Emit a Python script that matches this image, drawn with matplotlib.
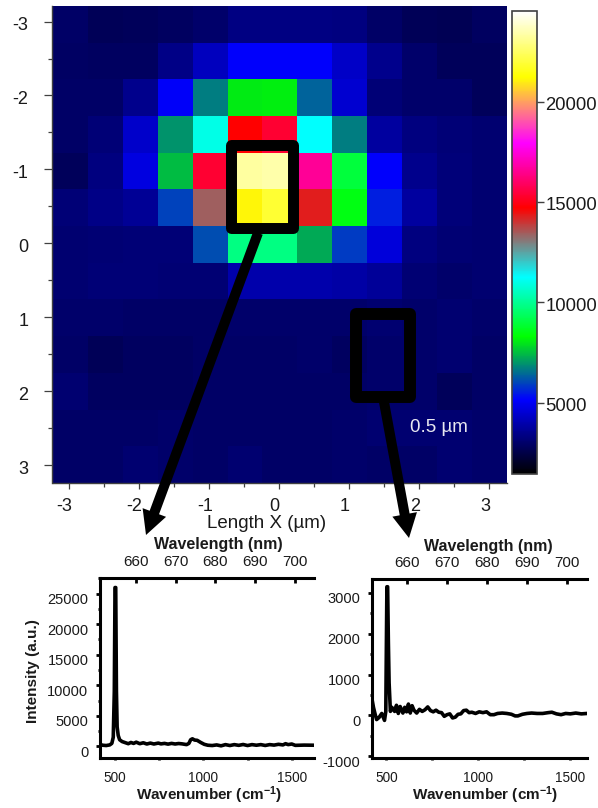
import numpy as np
import matplotlib
matplotlib.use("Agg")
import matplotlib.pyplot as plt
from matplotlib.colors import LinearSegmentedColormap
from matplotlib.patches import Rectangle, FancyArrow
from matplotlib.ticker import MultipleLocator, FixedLocator
from matplotlib.transforms import ScaledTranslation

plt.rcParams["font.family"] = ["Liberation Sans", "DejaVu Sans"]
plt.rcParams["mathtext.fontset"] = "custom"
plt.rcParams["mathtext.bf"] = "Liberation Sans:bold"
plt.rcParams["mathtext.rm"] = "Liberation Sans"
plt.rcParams["mathtext.default"] = "bf"
plt.rcParams["axes.unicode_minus"] = False

W, H = 598, 808
GRAY = "#404040"
TEXT = "#1a1a1a"

# intensity map, one row per line of the picture, top to bottom
map_row_0 = [2950, 2750, 2800, 2880, 3000, 3350, 3350, 3350, 3300, 2950, 2750, 2700, 2880]
map_row_1 = [2900, 2880, 2880, 3400, 4202, 5142, 5142, 5142, 4347, 3500, 3000, 2800, 2800]
map_row_2 = [2950, 2950, 3500, 5070, 6717, 8050, 8100, 6373, 4492, 3200, 3000, 3000, 2800]
map_row_3 = [2950, 3200, 4419, 6988, 10961, 14712, 15345, 11253, 6717, 3768, 3300, 3200, 3100]
map_row_4 = [2800, 3300, 4709, 7480, 15345, 23292, 23420, 16610, 8980, 5142, 3500, 3250, 3100]
map_row_5 = [3200, 3400, 3650, 6000, 13420, 21100, 21880, 14300, 8513, 5511, 3768, 3250, 3100]
map_row_6 = [3100, 3150, 3200, 3200, 6126, 9796, 9796, 7234, 5880, 4636, 3300, 3150, 3100]
map_row_7 = [3100, 3200, 3200, 3150, 3150, 3950, 3950, 3950, 3850, 3700, 3150, 3000, 3100]
map_row_8 = [3000, 3000, 2950, 2950, 2950, 3000, 3000, 3000, 3000, 3100, 3000, 3100, 3000]
map_row_9 = [2950, 2750, 2880, 2880, 2950, 2950, 2950, 3000, 2880, 3000, 3000, 3100, 2950]
map_row_10 = [3100, 2880, 2880, 2880, 2950, 2950, 2950, 2950, 2950, 3000, 3000, 2800, 2950]
map_row_11 = [2950, 2950, 2950, 3000, 2950, 2950, 2950, 2950, 3000, 3100, 3100, 3100, 3000]
map_row_12 = [2950, 2950, 3100, 3000, 2950, 3100, 2950, 2950, 3000, 2950, 2950, 3100, 3000]
map_rows = [map_row_0, map_row_1, map_row_2, map_row_3, map_row_4, map_row_5, map_row_6,
            map_row_7, map_row_8, map_row_9, map_row_10, map_row_11, map_row_12]

cbar_ticks = [5000, 10000, 15000, 20000]
cbar_colors = [(0.0, "#000000"), (0.16, "#0000ff"), (0.296, "#00ff00"), (0.425, "#00ffff"),
               (0.575, "#ff0000"), (0.715, "#ff00ff"), (0.858, "#ffff00"), (1.0, "#ffffff")]

# spectrum under the bright spot
left_wn = [415, 430, 450, 470, 482, 490, 496, 500, 504, 508, 512, 518, 526, 540, 560, 575, 590, 605, 620, 640, 660, 680,
           700, 720, 745, 760, 780, 800, 820, 840, 860, 880, 905, 918, 928, 938, 950, 965, 985, 1005, 1025, 1050, 1075, 1100,
           1125, 1150, 1175, 1200, 1225, 1250, 1275, 1300, 1325, 1350, 1375, 1400, 1425, 1450, 1465, 1480, 1500, 1520, 1570, 1626]
left_int = [350, 200, 150, 250, 500, 1500, 9000, 26000, 26000, 9000, 3200, 1800, 1100, 800, 600, 450, 650, 500, 700, 450, 600, 400,
            550, 400, 550, 420, 500, 380, 500, 400, 480, 420, 300, 500, 1100, 1250, 1050, 1000, 650, 350, 200, 150, 250, 100,
            300, 150, 300, 180, 320, 150, 300, 200, 300, 160, 300, 220, 350, 250, 450, 300, 400, 180, 220, 200]

# spectrum away from the spot
right_wn = [422, 430, 438, 447, 460, 475, 490, 497, 503, 507, 511, 515, 522, 530, 545, 555, 565, 575, 590, 600,
            610, 620, 630, 640, 650, 665, 680, 695, 710, 725, 740, 755, 770, 785, 800, 815, 830, 845, 860, 875,
            890, 905, 920, 935, 950, 965, 985, 1005, 1025, 1045, 1065, 1085, 1105, 1130, 1155, 1180, 1200, 1215,
            1240, 1265, 1290, 1320, 1350, 1380, 1400, 1425, 1450, 1475, 1500, 1530, 1560, 1591]
right_int = [400, 200, 50, -100, -50, 50, -120, 100, 3150, 3150, 1800, 800, 100, 200, 100, 250, 50, 220, 60, 200,
             90, 280, 60, 240, 130, 60, 150, 100, 140, 210, 120, 90, 130, 80, 70, -20, 20, 40, -60, -40,
             30, 40, 120, 130, 70, 80, 50, 90, 70, 90, 20, 20, 50, 60, 50, 30, -10, -10,
             30, 50, 60, 50, 50, 70, 80, 40, 20, 50, 40, 60, 40, 50]

wavelength_ticks = [660, 670, 680, 690, 700]


def px_axes(fig, x0, y0, x1, y1):
    return fig.add_axes([x0 / W, 1 - y1 / H, (x1 - x0) / W, (y1 - y0) / H])


def shift_labels(fig, labels, dx, dy):
    # the tick labels sit a few pixels off their ticks in the original
    off = ScaledTranslation(dx / 100, dy / 100, fig.dpi_scale_trans)
    for lab in labels:
        lab.set_transform(lab.get_transform() + off)


def place_label(axis, at):
    axis.set_label_coords(at[0], at[1], transform=plt.gcf().axes[0].transData)
    axis.label.set_verticalalignment("center")


def plot_spectrum(fig, box, wn, inten, xlim, ylim, ymajor, wl_lim, xlabel_at, wl_label_at):
    ax = px_axes(fig, *box)
    ax.plot(wn, inten, color="k", lw=2.6, solid_joinstyle="round")
    ax.set_xlim(*xlim)
    ax.set_ylim(*ylim)
    for side in ["top", "right"]:
        ax.spines[side].set_visible(False)
    for side in ["left", "bottom"]:
        ax.spines[side].set_linewidth(2.2)
    ax.xaxis.set_major_locator(FixedLocator([500, 1000, 1500]))
    ax.xaxis.set_minor_locator(FixedLocator([750, 1250]))
    ax.yaxis.set_major_locator(MultipleLocator(ymajor))
    ax.yaxis.set_minor_locator(MultipleLocator(ymajor / 2))
    ax.tick_params(axis="y", which="major", length=2.8, width=2, pad=5.5, labelsize=10.5, labelcolor=TEXT)
    ax.tick_params(axis="y", which="minor", length=1.5, width=2)
    ax.tick_params(axis="x", which="major", length=1.5, width=2, pad=7.5, labelsize=9.8, labelcolor=TEXT)
    ax.tick_params(axis="x", which="minor", length=1.5, width=2)
    shift_labels(fig, ax.get_yticklabels(), 0, -5)
    ax.set_xlabel("Wavenumber (cm$^{-1}$)", fontsize=11, fontweight="bold", color=TEXT)
    place_label(ax.xaxis, xlabel_at)

    top = ax.twiny()
    top.set_xlim(*wl_lim)
    top.spines["top"].set_linewidth(2.2)
    for side in ["left", "right", "bottom"]:
        top.spines[side].set_visible(False)
    top.xaxis.set_major_locator(FixedLocator(wavelength_ticks))
    top.tick_params(axis="x", which="major", direction="in", length=3.6, width=2, pad=6.5,
                    labelsize=11, labelcolor=TEXT)
    top.set_xlabel("Wavelength (nm)", fontsize=11.5, fontweight="bold", color=TEXT)
    place_label(top.xaxis, wl_label_at)
    return ax


def main():
    fig = plt.figure(figsize=(W / 100, H / 100), dpi=100)
    over = fig.add_axes([0, 0, 1, 1], zorder=10)
    over.set_xlim(0, W)
    over.set_ylim(H, 0)
    over.axis("off")
    over.patch.set_alpha(0)

    # map
    cmap = LinearSegmentedColormap.from_list("map", cbar_colors, N=512)
    ax = px_axes(fig, 53, 6, 507, 483)
    im = ax.imshow(np.array(map_rows), cmap=cmap, vmin=1453, vmax=24512, aspect="auto",
                   interpolation="nearest", extent=[-3.23, 3.25, 3.24, -3.21])
    for side in ["top", "right"]:
        ax.spines[side].set_visible(False)
    for side in ["left", "bottom"]:
        ax.spines[side].set_color(GRAY)
        ax.spines[side].set_linewidth(1.0)
    ax.spines["left"].set_position(("outward", 1))
    ax.xaxis.set_major_locator(MultipleLocator(1))
    ax.xaxis.set_minor_locator(MultipleLocator(0.5))
    ax.yaxis.set_major_locator(MultipleLocator(1))
    ax.yaxis.set_minor_locator(MultipleLocator(0.5))
    ax.tick_params(axis="y", which="major", length=5.8, width=0.9, color=GRAY, pad=11, labelsize=13, labelcolor=TEXT)
    ax.tick_params(axis="y", which="minor", length=3.2, width=0.9, color=GRAY)
    ax.tick_params(axis="x", which="major", length=4.5, width=0.9, color=GRAY, pad=6, labelsize=13, labelcolor=TEXT)
    ax.tick_params(axis="x", which="minor", length=2.8, width=0.9, color=GRAY)
    ax.set_xticks([-3, -2, -1, 0, 1, 2, 3])
    ax.set_yticks([-3, -2, -1, 0, 1, 2, 3])
    shift_labels(fig, ax.get_xticklabels(), -4.5, 0)
    shift_labels(fig, ax.get_yticklabels(), 0, -2)
    ax.set_xlabel("Length X (µm)", fontsize=13.5, color=TEXT)
    place_label(ax.xaxis, (267, 523))

    # colour bar
    cax = px_axes(fig, 512, 11, 537, 474)
    cb = fig.colorbar(im, cax=cax)
    cb.set_ticks(cbar_ticks)
    cb.outline.set_edgecolor(GRAY)
    cb.outline.set_linewidth(1.2)
    cax.tick_params(axis="y", length=5, width=1, color=GRAY, pad=1, labelsize=13.3, labelcolor=TEXT)
    shift_labels(fig, cax.get_yticklabels(), 0, -2)

    # spectra
    plot_spectrum(fig, (100, 578, 314, 758), left_wn, left_int, (415, 1626), (-1890, 27560), 5000,
                  (651, 704.8), (209, 795), (218, 544))
    plot_spectrum(fig, (372, 579, 587, 758), right_wn, right_int, (422, 1591), (-1040, 3340), 1000,
                  (651.25, 705), (485, 795), (488, 546))
    over.text(33, 671, "Intensity (a.u.)", rotation=90, ha="center", va="center", fontsize=11,
              fontweight="bold", color=TEXT)

    # selection boxes and arrows
    over.add_patch(Rectangle((230.5, 145), 62.5, 83, fill=False, ec="k", lw=7.9, joinstyle="round"))
    over.add_patch(Rectangle((355.8, 313.8), 54.2, 83.2, fill=False, ec="k", lw=8.6, joinstyle="round"))
    over.add_patch(FancyArrow(258, 233, 146 - 258, 535 - 233, width=10, head_width=25, head_length=24,
                              length_includes_head=True, color="k", lw=0))
    over.add_patch(FancyArrow(384, 402, 409 - 384, 538 - 402, width=10, head_width=25, head_length=24,
                              length_includes_head=True, color="k", lw=0))
    over.text(438.5, 427, "0.5 µm", ha="center", va="center", fontsize=13.5, color="#e8e8f0")

    fig.savefig("out.png", dpi=100)


if __name__ == '__main__':
    main()
